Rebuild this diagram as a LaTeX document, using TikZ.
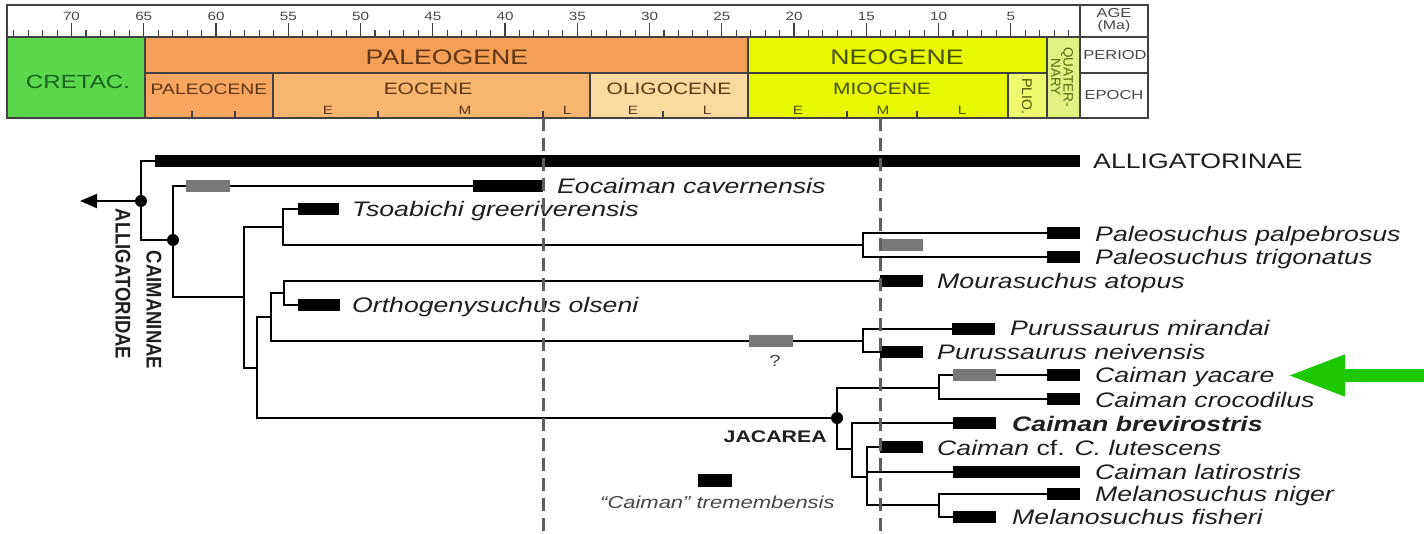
\documentclass[tikz,border=0pt]{standalone}
\usepackage{fontspec}
\setmainfont[FakeStretch=1.27]{Liberation Sans}
\newfontfamily\rotfont{Liberation Sans}
\usepackage{graphicx}
\usetikzlibrary{arrows.meta}
\newcommand\myfs[1]{\fontsize{#1}{#1}\selectfont}
\definecolor{cretac}{RGB}{92,214,76}
\definecolor{paleogene}{RGB}{245,160,88}
\definecolor{paleocene}{RGB}{246,166,96}
\definecolor{eocene}{RGB}{248,182,112}
\definecolor{oligocene}{RGB}{250,218,160}
\definecolor{neogene}{RGB}{232,248,0}
\definecolor{plio}{RGB}{238,250,110}
\definecolor{quat}{RGB}{226,242,130}
\definecolor{gridc}{RGB}{65,65,65}
\definecolor{pgtext}{RGB}{95,52,18}
\definecolor{ngtext}{RGB}{70,80,0}
\definecolor{crtext}{RGB}{25,100,25}
\definecolor{qtext}{RGB}{85,105,15}
\definecolor{ghost}{RGB}{120,120,120}
\definecolor{dashc}{RGB}{95,95,95}
\definecolor{garrow}{RGB}{30,200,0}
\definecolor{txt}{RGB}{30,30,30}
\definecolor{agetxt}{RGB}{70,70,70}
\begin{document}
\begin{tikzpicture}[x=1pt,y=-1pt,
  grid/.style={draw=gridc,line width=1.6pt},
  tickline/.style={draw=gridc,line width=1.1pt},
  br/.style={draw=black,line width=1.9pt,line join=miter},
  bar/.style={fill=black,draw=none,inner sep=0pt,outer sep=0pt,minimum height=12.5pt,anchor=west},
  gbar/.style={bar,fill=ghost},
  taxon/.style={anchor=base west,inner sep=0pt,text=txt,font=\myfs{21}\itshape},
  agenum/.style={inner sep=0pt,text=agetxt,font=\myfs{12}},
  perlab/.style={inner sep=0pt,font=\myfs{21}},
  eplab/.style={inner sep=0pt,font=\myfs{16.5}},
  sublab/.style={inner sep=0pt,font=\myfs{12}},
  agecol/.style={inner sep=0pt,text=agetxt,font=\myfs{13}},
  rotlab/.style={inner sep=0pt,rotate=-90,text=txt,font=\rotfont\bfseries\myfs{18.5}},
  dashline/.style={draw=dashc,line width=3pt,dash pattern=on 13pt off 7pt},
  dot/.style={fill=black}
]
\useasboundingbox (0,0) rectangle (1424,534);
\fill[white] (0,0) rectangle (1424,534);

% ---------- time scale ----------
\fill[white] (7,5) rectangle (1148,118);
\fill[cretac] (7,37) rectangle (145,118);
\fill[paleogene] (145,37) rectangle (748,73);
\fill[neogene] (748,37) rectangle (1047,73);
\fill[quat] (1047,37) rectangle (1080,118);
\fill[paleocene] (145,73) rectangle (273,118);
\fill[eocene] (273,73) rectangle (590,118);
\fill[oligocene] (590,73) rectangle (748,118);
\fill[neogene] (748,73) rectangle (1008,118);
\fill[plio] (1008,73) rectangle (1047,118);

\foreach \a in {1,...,74}{%
  \pgfmathsetmacro\tx{1083-14.45*\a}%
  \pgfmathtruncatemacro\tm{mod(\a,5)}%
  \ifnum\tm=0
    \draw[tickline] (\tx,23) -- (\tx,37);
  \else
    \draw[tickline] (\tx,30) -- (\tx,37);
  \fi
}
\foreach \a in {5,10,...,70}{%
  \pgfmathsetmacro\tx{1083-14.45*\a}%
  \node[agenum] (age\a) at (\tx,16) {\a};
}

\draw[grid] (7,5) rectangle (1148,118);
\draw[grid] (7,37) -- (1148,37);
\draw[grid] (145,73) -- (1047,73);
\draw[grid] (1080,73) -- (1148,73);
\draw[grid] (145,37) -- (145,118);
\draw[grid] (748,37) -- (748,118);
\draw[grid] (1047,37) -- (1047,118);
\draw[grid] (1080,5) -- (1080,118);
\draw[grid] (273,73) -- (273,118);
\draw[grid] (590,73) -- (590,118);
\draw[grid] (1008,73) -- (1008,118);
\foreach \t in {192,235,378,543,663,847,917}{%
  \draw[tickline] (\t,111) -- (\t,118);
}

\node[perlab,text=crtext,font=\myfs{19}] (cretL) at (78,82) {CRETAC.};
\node[perlab,text=pgtext] (paleogL) at (447,57) {PALEOGENE};
\node[perlab,text=ngtext] (neogL) at (897,57) {NEOGENE};
\node[eplab,text=pgtext,font=\myfs{15.2}] (paleocL) at (209,89) {PALEOCENE};
\node[eplab,text=pgtext] (eocL) at (428,89) {EOCENE};
\node[eplab,text=pgtext] (oligL) at (669,89) {OLIGOCENE};
\node[eplab,text=ngtext] (mioL) at (882,89) {MIOCENE};
\node[sublab,text=pgtext] (eoE) at (328,110) {E};
\node[sublab,text=pgtext] (eoM) at (465,110) {M};
\node[sublab,text=pgtext] (eoL) at (567,110) {L};
\node[sublab,text=pgtext] (olE) at (633,110) {E};
\node[sublab,text=pgtext] (olL) at (707,110) {L};
\node[sublab,text=ngtext] (miE) at (798,110) {E};
\node[sublab,text=ngtext] (miM) at (883,110) {M};
\node[sublab,text=ngtext] (miL) at (962,110) {L};
\node[inner sep=0pt,rotate=-90,text=ngtext,font=\rotfont\myfs{14}] (plioL) at (1027,96) {PLIO.};
\node[inner sep=0pt,rotate=-90,text=qtext,font=\rotfont\myfs{13.5},align=center] (quatL) at (1062,77) {QUATER-\\[-1pt]NARY};
\node[agecol] (ageL) at (1114,13) {AGE};
\node[agecol,font=\myfs{12.5}] (maL) at (1114,26) {(Ma)};
\node[agecol] (perL) at (1115,55) {PERIOD};
\node[agecol] (epL) at (1114,95) {EPOCH};

% ---------- branch points ----------
\coordinate (root) at (141,201);
\coordinate (rootarrow) at (80,201);
\coordinate (caim) at (173,240);
\coordinate (cA) at (244,297);
\coordinate (tp) at (283,227);
\coordinate (palN) at (863,245);
\coordinate (cB) at (257,368);
\coordinate (cC) at (271,317);
\coordinate (cD) at (284,293);
\coordinate (purN) at (863,341);
\coordinate (jac) at (837,418);
\coordinate (cY) at (939,388);
\coordinate (cE) at (852,449);
\coordinate (cF) at (867,477);
\coordinate (cM) at (939,505);

% ---------- bars ----------
\node[bar,minimum width=925pt] (alliBar) at (155,161) {};
\node[gbar,minimum width=44pt] (eocGrey) at (186,186) {};
\node[bar,minimum width=70pt] (eocBar) at (473,186) {};
\node[bar,minimum width=41pt] (tsoBar) at (298,209) {};
\node[bar,minimum width=33pt] (palpBar) at (1047,233) {};
\node[gbar,minimum width=43pt] (palGrey) at (880,245) {};
\node[bar,minimum width=33pt] (trigBar) at (1047,257) {};
\node[bar,minimum width=43pt] (mouBar) at (880,281) {};
\node[bar,minimum width=42pt] (ortBar) at (298,305) {};
\node[gbar,minimum width=44pt] (purGrey) at (749,341) {};
\node[bar,minimum width=43pt] (mirBar) at (952,329) {};
\node[bar,minimum width=43pt] (neiBar) at (880,352) {};
\node[gbar,minimum width=43pt] (yacGrey) at (953,375) {};
\node[bar,minimum width=33pt] (yacBar) at (1047,375) {};
\node[bar,minimum width=33pt] (croBar) at (1047,399) {};
\node[bar,minimum width=43pt] (breBar) at (953,423) {};
\node[bar,minimum width=43pt] (lutBar) at (880,447) {};
\node[bar,minimum width=127pt] (latBar) at (953,472) {};
\node[bar,minimum width=33pt] (nigBar) at (1047,494) {};
\node[bar,minimum width=43pt] (fisBar) at (953,517) {};
\node[bar,minimum width=34pt,minimum height=13pt] (tremBar) at (698,480) {};

% ---------- branches ----------
\draw[br] (alliBar.west) -| (root) |- (caim);
\draw[br,-{Triangle[length=17pt,width=14pt]}] (root) -- (rootarrow);
\draw[br] (caim) |- (eocGrey.west);
\draw[br] (eocGrey.east) -- (eocBar.west);
\draw[br] (caim) |- (cA);
\draw[br] (tsoBar.west) -| (tp) |- (palN);
\draw[br] (tp) -| (cA);
\draw[br] (palpBar.west) -| (palN) |- (trigBar.west);
\draw[br] (cA) |- (cB);
\draw[br] (cC) -| (cB) |- (jac);
\draw[br] (cD) -| (cC) |- (purGrey.west);
\draw[br] (purGrey.east) -- (purN);
\draw[br] (mouBar.west) -| (cD) |- (ortBar.west);
\draw[br] (mirBar.west) -| (purN) |- (neiBar.west);
\draw[br] (cY) -| (jac) |- (cE);
\draw[br] (yacGrey.west) -| (cY) |- (croBar.west);
\draw[br] (yacGrey.east) -- (yacBar.west);
\draw[br] (breBar.west) -| (cE) |- (cF);
\draw[br] (lutBar.west) -| (cF) |- (cM);
\draw[br] (cF |- latBar.west) -- (latBar.west);
\draw[br] (nigBar.west) -| (cM) |- (fisBar.west);
\fill[dot] (root) circle[radius=6pt];
\fill[dot] (caim) circle[radius=6pt];
\fill[dot] (jac) circle[radius=6pt];

% ---------- labels ----------
\node[taxon,font=\myfs{21}] (lAlli) at (1093,169) {ALLIGATORINAE};
\node[taxon] (lEoc) at (557,193.5) {Eocaiman cavernensis};
\node[taxon] (lTso) at (352,216.5) {Tsoabichi greeriverensis};
\node[taxon] (lPalp) at (1095,241.5) {Paleosuchus palpebrosus};
\node[taxon] (lTrig) at (1095,265) {Paleosuchus trigonatus};
\node[taxon] (lMou) at (937,288.5) {Mourasuchus atopus};
\node[taxon] (lOrt) at (352,312.5) {Orthogenysuchus olseni};
\node[taxon] (lMir) at (1010,336) {Purussaurus mirandai};
\node[taxon] (lNei) at (937,359.5) {Purussaurus neivensis};
\node[taxon] (lYac) at (1095,383) {Caiman yacare};
\node[taxon] (lCro) at (1095,407) {Caiman crocodilus};
\node[taxon,font=\myfs{21}\bfseries\itshape] (lBre) at (1012,431) {Caiman brevirostris};
\node[taxon] (lLut) at (937,455) {Caiman {\upshape cf.} C. lutescens};
\node[taxon] (lLat) at (1095,479) {Caiman latirostris};
\node[taxon] (lNig) at (1095,501) {Melanosuchus niger};
\node[taxon] (lFis) at (1012,524.5) {Melanosuchus fisheri};
\node[taxon,font=\myfs{17.3}\itshape,text=agetxt] (lTrem) at (600,508.5) {“Caiman” tremembensis};
\node[inner sep=0pt,text=agetxt,font=\myfs{16}] (lQ) at (775,361) {?};
\node[anchor=base east,inner sep=0pt,text=txt,font=\bfseries\myfs{16.8}] (lJac) at (827,442) {JACAREA};
\node[rotlab] (lAlld) at (123,284) {\scalebox{1}[1.15]{ALLIGATORIDAE}};
\node[rotlab] (lCaim) at (154,310) {\scalebox{1}[1.15]{CAIMANINAE}};

% ---------- dashed time lines ----------
\coordinate (dA1) at (543,118); \coordinate (dA2) at (543,531);
\coordinate (dB1) at (880,118); \coordinate (dB2) at (880,531);
\draw[dashline] (dA1) -- (dA2);
\draw[dashline] (dB1) -- (dB2);

% ---------- green arrow ----------
\coordinate (garS) at (1424,375.5);
\coordinate (garE) at (1287,375.5);
\draw[draw=garrow,line width=13pt,-{Triangle[length=58pt,width=38pt]}] (garS) -- (garE);
\end{tikzpicture}
\end{document}
